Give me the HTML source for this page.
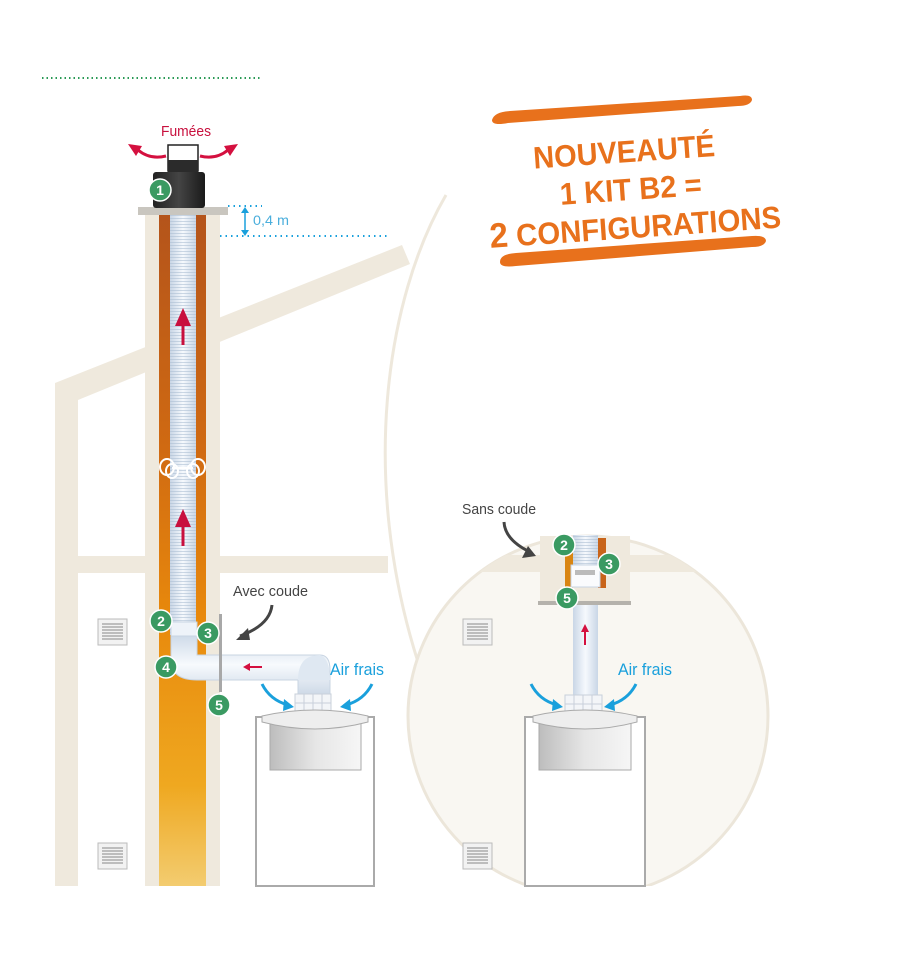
<!DOCTYPE html>
<html><head><meta charset="utf-8"><style>
html,body{margin:0;padding:0;background:#fff;}
svg{display:block;}
text{font-family:"Liberation Sans",sans-serif;}
</style></head><body>
<svg width="900" height="959" viewBox="0 0 900 959" xmlns="http://www.w3.org/2000/svg">
<defs>
<linearGradient id="flue" x1="0" y1="0" x2="0" y2="1">
<stop offset="0" stop-color="#b4541b"/><stop offset="0.35" stop-color="#d06a12"/><stop offset="0.6" stop-color="#e8890c"/><stop offset="0.85" stop-color="#efa820"/><stop offset="1" stop-color="#f3cc70"/></linearGradient>
<linearGradient id="pipe" x1="0" y1="0" x2="1" y2="0">
<stop offset="0" stop-color="#c9d6e6"/><stop offset="0.5" stop-color="#f6f9fd"/><stop offset="1" stop-color="#c9d6e6"/></linearGradient>
<linearGradient id="pipeH" x1="0" y1="0" x2="0" y2="1">
<stop offset="0" stop-color="#cfdbe9"/><stop offset="0.45" stop-color="#f7fafd"/><stop offset="1" stop-color="#c6d3e3"/></linearGradient>
<linearGradient id="box" x1="0" y1="0" x2="1" y2="0">
<stop offset="0" stop-color="#bdbdbd"/><stop offset="0.5" stop-color="#e6e6e6"/><stop offset="1" stop-color="#f6f6f6"/></linearGradient>
<linearGradient id="blk" x1="0" y1="0" x2="1" y2="0">
<stop offset="0" stop-color="#222"/><stop offset="0.5" stop-color="#444"/><stop offset="1" stop-color="#1a1a1a"/></linearGradient>
<pattern id="corr" width="4" height="3" patternUnits="userSpaceOnUse"><rect y="2" width="4" height="1" fill="#aebfd4" opacity="0.6"/></pattern>
<clipPath id="cc"><rect x="0" y="0" width="900" height="886"/></clipPath>
<clipPath id="circ"><circle cx="588" cy="713" r="178"/></clipPath>
</defs>

<line x1="42" y1="78" x2="260" y2="78" stroke="#2a9a55" stroke-width="2" stroke-dasharray="1.5 3"/>

<path d="M446,195 C385,300 360,480 418,662" fill="none" stroke="#eee8dc" stroke-width="3"/>

<g fill="#efe9dd">
<polygon points="55,383 402,245 410,264 78,400 78,886 55,886"/>
<rect x="78" y="556" width="310" height="17"/>
</g>

<g clip-path="url(#cc)">
<circle cx="588" cy="716" r="180" fill="#f9f7f2" stroke="#ece6da" stroke-width="3"/>
<g clip-path="url(#circ)"><rect x="400" y="555" width="400" height="17" fill="#efe9dd"/></g>
</g>

<rect x="145" y="213" width="75" height="673" fill="#efe9dd"/>
<rect x="159" y="215" width="47" height="671" fill="url(#flue)"/>
<rect x="138" y="207" width="90" height="8" fill="#c9c6bf"/>
<rect x="170" y="215" width="26" height="420" fill="url(#pipe)"/>
<rect x="170" y="215" width="26" height="420" fill="url(#corr)"/>
<g fill="none" stroke="#fff" stroke-width="2">
<ellipse cx="167" cy="467" rx="7" ry="8"/><ellipse cx="172" cy="471" rx="6" ry="7"/>
<ellipse cx="198" cy="467" rx="7" ry="8"/><ellipse cx="193" cy="471" rx="6" ry="7"/>
<line x1="172" y1="468" x2="193" y2="468"/>
</g>
<rect x="168" y="145" width="30" height="26" fill="#fff" stroke="#222" stroke-width="1.5"/>
<rect x="168" y="160" width="30" height="14" fill="#2b2b2b"/>
<rect x="153" y="172" width="52" height="36" rx="3" fill="url(#blk)"/>
<g stroke="#c8103e" stroke-width="3" fill="#c8103e">
<line x1="183" y1="345" x2="183" y2="322"/><polygon points="175,326 183,308 191,326" stroke="none"/>
<line x1="183" y1="546" x2="183" y2="523"/><polygon points="175,527 183,509 191,527" stroke="none"/>
</g>
<g fill="none" stroke="#d4103f" stroke-width="3">
<path d="M166,156 Q150,160 138,150"/><path d="M200,156 Q216,160 228,150"/>
</g>
<polygon points="128,144 142,146 136,156" fill="#d4103f"/>
<polygon points="238,144 224,146 230,156" fill="#d4103f"/>
<text x="186" y="136" font-size="15" fill="#c8103e" text-anchor="middle" textLength="50" lengthAdjust="spacingAndGlyphs">Fumées</text>

<g stroke="#1aa0dc" stroke-width="2" stroke-dasharray="1.5 4">
<line x1="228" y1="206" x2="262" y2="206"/>
<line x1="220" y1="236" x2="388" y2="236"/>
</g>
<line x1="245" y1="211" x2="245" y2="232" stroke="#1aa0dc" stroke-width="1.5"/>
<polygon points="241,213 245,207 249,213" fill="#1aa0dc"/><polygon points="241,230 245,236 249,230" fill="#1aa0dc"/>
<text x="253" y="225" font-size="14" fill="#4aaedc" textLength="36" lengthAdjust="spacingAndGlyphs">0,4 m</text>

<rect x="171" y="622" width="26" height="14" fill="#eef3f9" stroke="#c8d4e2"/>
<path d="M171,636 L197,636 L197,655 L320,655 Q330,655 330,670 L330,700 L298,700 L298,680 L197,680 Q171,680 171,660z" fill="url(#pipeH)" stroke="#c8d4e2"/>
<path d="M298,680 Q298,655 320,655 Q330,658 330,680" fill="#dfe8f2"/>
<rect x="219" y="614" width="3" height="78" fill="#a8a8a8"/>
<line x1="262" y1="667" x2="246" y2="667" stroke="#d4103f" stroke-width="2"/><polygon points="250,663 243,667 250,671" fill="#d4103f"/>
<rect x="295" y="694" width="36" height="18" fill="#f3f5f8" stroke="#c8d0da"/>
<g stroke="#c8d0da"><line x1="304" y1="694" x2="304" y2="712"/><line x1="313" y1="694" x2="313" y2="712"/><line x1="322" y1="694" x2="322" y2="712"/><line x1="295" y1="703" x2="331" y2="703"/></g>
<rect x="256" y="717" width="118" height="169" fill="#fff" stroke="#aaa" stroke-width="2"/>
<rect x="270" y="717" width="91" height="53" fill="url(#box)" stroke="#aaa"/>
<path d="M262,716 Q315,704 368,716 L368,722 Q315,736 262,722z" fill="#eee" stroke="#aaa"/>
<text x="233" y="596" font-size="15" fill="#444" textLength="75" lengthAdjust="spacingAndGlyphs">Avec coude</text>
<path d="M272,605 Q270,625 240,636" fill="none" stroke="#444" stroke-width="3"/>
<polygon points="236,640 248,628 250,640" fill="#444"/>
<text x="330" y="675" font-size="17" fill="#1aa0dc" textLength="54" lengthAdjust="spacingAndGlyphs">Air frais</text>
<path d="M262,684 Q270,700 288,705" fill="none" stroke="#1aa0dc" stroke-width="3"/>
<polygon points="284,699 294,707 283,711" fill="#1aa0dc"/>
<path d="M372,684 Q364,700 346,705" fill="none" stroke="#1aa0dc" stroke-width="3"/>
<polygon points="350,699 340,707 351,711" fill="#1aa0dc"/>

<rect x="540" y="536" width="90" height="66" fill="#efe9dd"/>
<rect x="538" y="601" width="93" height="4" fill="#b5b2ac"/>
<rect x="565" y="550" width="8" height="38" fill="#d98512"/>
<rect x="598" y="538" width="8" height="50" fill="#c8641a"/>
<rect x="573" y="535" width="25" height="30" fill="url(#pipe)"/>
<rect x="573" y="535" width="25" height="30" fill="url(#corr)"/>
<rect x="571" y="565" width="29" height="22" fill="#fafbfd" stroke="#c8d4e2"/>
<rect x="575" y="570" width="20" height="5" fill="#bbb"/>
<rect x="573" y="605" width="25" height="90" fill="url(#pipe)"/>
<line x1="585" y1="645" x2="585" y2="630" stroke="#d4103f" stroke-width="2"/><polygon points="581,632 585,624 589,632" fill="#d4103f"/>
<rect x="565" y="695" width="37" height="18" fill="#f3f5f8" stroke="#c8d0da"/>
<g stroke="#c8d0da"><line x1="574" y1="695" x2="574" y2="713"/><line x1="583" y1="695" x2="583" y2="713"/><line x1="592" y1="695" x2="592" y2="713"/><line x1="565" y1="704" x2="602" y2="704"/></g>
<rect x="525" y="717" width="120" height="169" fill="#fff" stroke="#aaa" stroke-width="2"/>
<rect x="539" y="717" width="92" height="53" fill="url(#box)" stroke="#aaa"/>
<path d="M533,716 Q585,704 637,716 L637,722 Q585,736 533,722z" fill="#eee" stroke="#aaa"/>
<text x="462" y="514" font-size="15" fill="#444" textLength="74" lengthAdjust="spacingAndGlyphs">Sans coude</text>
<path d="M504,522 Q505,540 530,552" fill="none" stroke="#444" stroke-width="3"/>
<polygon points="536,556 522,558 528,546" fill="#444"/>
<text x="618" y="675" font-size="17" fill="#1aa0dc" textLength="54" lengthAdjust="spacingAndGlyphs">Air frais</text>
<path d="M531,684 Q539,700 557,705" fill="none" stroke="#1aa0dc" stroke-width="3"/>
<polygon points="553,699 563,707 552,711" fill="#1aa0dc"/>
<path d="M636,684 Q628,700 610,705" fill="none" stroke="#1aa0dc" stroke-width="3"/>
<polygon points="614,699 604,707 615,711" fill="#1aa0dc"/>

<g>
<g transform="translate(98,619)"><rect width="29" height="26" fill="#f2f2f2" stroke="#bbb"/><g stroke="#888"><line x1="4" y1="5" x2="25" y2="5"/><line x1="4" y1="8" x2="25" y2="8"/><line x1="4" y1="11" x2="25" y2="11"/><line x1="4" y1="14" x2="25" y2="14"/><line x1="4" y1="17" x2="25" y2="17"/><line x1="4" y1="20" x2="25" y2="20"/></g></g>
<g transform="translate(98,843)"><rect width="29" height="26" fill="#f2f2f2" stroke="#bbb"/><g stroke="#888"><line x1="4" y1="5" x2="25" y2="5"/><line x1="4" y1="8" x2="25" y2="8"/><line x1="4" y1="11" x2="25" y2="11"/><line x1="4" y1="14" x2="25" y2="14"/><line x1="4" y1="17" x2="25" y2="17"/><line x1="4" y1="20" x2="25" y2="20"/></g></g>
<g transform="translate(463,619)"><rect width="29" height="26" fill="#f2f2f2" stroke="#bbb"/><g stroke="#888"><line x1="4" y1="5" x2="25" y2="5"/><line x1="4" y1="8" x2="25" y2="8"/><line x1="4" y1="11" x2="25" y2="11"/><line x1="4" y1="14" x2="25" y2="14"/><line x1="4" y1="17" x2="25" y2="17"/><line x1="4" y1="20" x2="25" y2="20"/></g></g>
<g transform="translate(463,843)"><rect width="29" height="26" fill="#f2f2f2" stroke="#bbb"/><g stroke="#888"><line x1="4" y1="5" x2="25" y2="5"/><line x1="4" y1="8" x2="25" y2="8"/><line x1="4" y1="11" x2="25" y2="11"/><line x1="4" y1="14" x2="25" y2="14"/><line x1="4" y1="17" x2="25" y2="17"/><line x1="4" y1="20" x2="25" y2="20"/></g></g>
</g>

<g font-size="14" font-weight="bold" fill="#fff" text-anchor="middle">
<circle cx="160" cy="190" r="11" fill="#3a9a62" stroke="#fff" stroke-width="1.5"/><text x="160" y="195">1</text>
<circle cx="161" cy="621" r="11" fill="#3a9a62" stroke="#fff" stroke-width="1.5"/><text x="161" y="626">2</text>
<circle cx="208" cy="633" r="11" fill="#3a9a62" stroke="#fff" stroke-width="1.5"/><text x="208" y="638">3</text>
<circle cx="166" cy="667" r="11" fill="#3a9a62" stroke="#fff" stroke-width="1.5"/><text x="166" y="672">4</text>
<circle cx="219" cy="705" r="11" fill="#3a9a62" stroke="#fff" stroke-width="1.5"/><text x="219" y="710">5</text>
<circle cx="564" cy="545" r="11" fill="#3a9a62" stroke="#fff" stroke-width="1.5"/><text x="564" y="550">2</text>
<circle cx="609" cy="564" r="11" fill="#3a9a62" stroke="#fff" stroke-width="1.5"/><text x="609" y="569">3</text>
<circle cx="567" cy="598" r="11" fill="#3a9a62" stroke="#fff" stroke-width="1.5"/><text x="567" y="603">5</text>
</g>

<g fill="#e8711c">
<path d="M492,120 Q494,112 510,111 L740,96 Q752,94 752,100 Q750,106 738,106 L508,123 Q492,126 492,120z"/>
<path d="M500,262 Q500,254 516,253 L752,236 Q766,235 766,241 Q764,247 752,247 L516,266 Q500,268 500,262z"/>
</g>
<g transform="rotate(-4 630 180)" fill="#e8711c" font-weight="bold" text-anchor="middle">
<text x="626" y="162" font-size="31" textLength="182" lengthAdjust="spacingAndGlyphs">NOUVEAUTÉ</text>
<text x="630" y="200" font-size="31" textLength="142" lengthAdjust="spacingAndGlyphs">1 KIT B2 =</text>
<text x="632" y="238" font-size="31" textLength="292" lengthAdjust="spacingAndGlyphs"><tspan font-size="35">2</tspan> CONFIGURATIONS</text>
</g>
</svg>
</body></html>
